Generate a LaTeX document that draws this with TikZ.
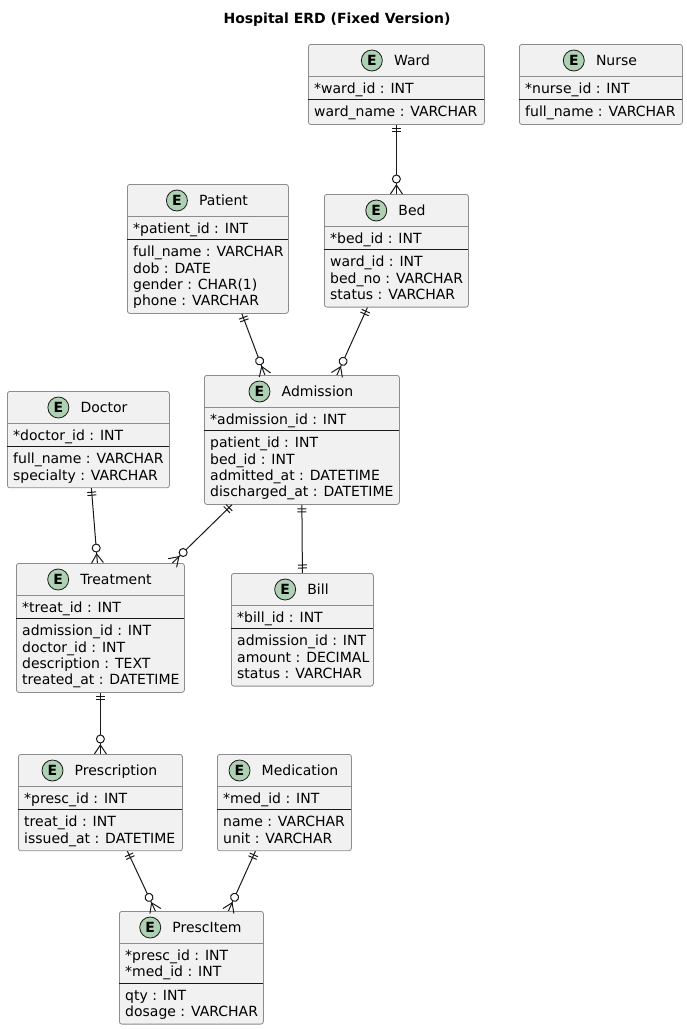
\documentclass[tikz,border=0pt]{standalone}
\usepackage{fontspec}
\setmainfont{DejaVu Sans}
\usetikzlibrary{decorations.markings}
\definecolor{entfill}{HTML}{F1F1F1}
\definecolor{entline}{HTML}{8C8C8C}
\definecolor{inkline}{HTML}{181818}
\definecolor{spotfill}{HTML}{ADD1B2}
\tikzset{
  entbox/.style={draw=entline, fill=entfill, rounded corners=2.5pt, line width=0.8pt, inner sep=0pt},
  entsep/.style={draw=entline, line width=0.8pt},
  keysep/.style={draw=inkline, line width=1pt},
  enticon/.style={circle, draw=inkline, fill=spotfill, line width=0.8pt, minimum size=21pt, inner sep=0pt, font=\fontsize{14}{17}\selectfont\bfseries},
  enttitle/.style={anchor=base, inner sep=0pt},
  entrow/.style={anchor=base west, inner sep=0pt},
  relink/.style={draw=inkline, line width=1pt},
  onemany/.style={relink, decoration={markings,
      mark=at position 0 with {\draw[relink] (4pt,-4.5pt) -- (4pt,4.5pt) (7pt,-4.5pt) -- (7pt,4.5pt);},
      mark=at position 1 with {\draw[relink] (-9pt,0pt) -- (0pt,6pt) (-9pt,0pt) -- (0pt,-6pt);
        \draw[relink, fill=white] (-15pt,0pt) circle (4pt);}},
    postaction={decorate}},
  oneone/.style={relink, decoration={markings,
      mark=at position 0 with {\draw[relink] (4pt,-4.5pt) -- (4pt,4.5pt) (7pt,-4.5pt) -- (7pt,4.5pt);},
      mark=at position 1 with {\draw[relink] (-5pt,-4.5pt) -- (-5pt,4.5pt) (-8pt,-4.5pt) -- (-8pt,4.5pt);}},
    postaction={decorate}}
}
% #1 name, #2 x, #3 top, #4 width, #5 title, #6/#7 key lines, #8/#9 attribute lines
\newcommand{\entity}[9]{%
  \pgfmathsetmacro\entA{#3+32}
  \pgfmathsetmacro\entB{\entA+7.5+16.3*#6}
  \pgfmathsetmacro\entH{\entB+8+16.3*#8-#3}
  \node[entbox, anchor=north west, minimum width=#4pt, minimum height=\entH pt] (#1) at (#2,#3) {};
  \draw[entsep] (#2,\entA) -- ++(#4,0);
  \draw[keysep] (#2,\entB) -- ++(#4,0);
  \node[enttitle] (#1-t) at (#2+#4/2+16,#3+21) {#5};
  \node[enticon] (#1-e) at ([xshift=-22pt,yshift=4.5pt]#1-t.base west) {E};
  \foreach \row [count=\i] in {#7}
    \node[entrow] at (#2+6,\entA+17+16.3*\i-16.3) {\row};
  \foreach \row [count=\i] in {#9}
    \node[entrow] at (#2+6,\entB+17+16.3*\i-16.3) {\row};
}

\begin{document}
\begin{tikzpicture}[x=1pt, y=-1pt, font=\fontsize{14}{17}\selectfont]
  \useasboundingbox (0,0) rectangle (687,1029);
  \node[font=\fontsize{14}{17}\selectfont\bfseries, anchor=base] (title) at (337,23) {Hospital ERD (Fixed Version)};

  % entities
  \entity{ward}{308}{44}{176}{Ward}{1}{*ward\_id : INT}{1}{ward\_name : VARCHAR}
  \entity{nurse}{519}{44}{163}{Nurse}{1}{*nurse\_id : INT}{1}{full\_name : VARCHAR}
  \entity{patient}{127}{184}{161}{Patient}{1}{*patient\_id : INT}{4}{full\_name : VARCHAR, dob : DATE, gender : CHAR(1), phone : VARCHAR}
  \entity{bed}{324}{194}{144}{Bed}{1}{*bed\_id : INT}{3}{ward\_id : INT, bed\_no : VARCHAR, status : VARCHAR}
  \entity{admission}{204}{375}{195}{Admission}{1}{*admission\_id : INT}{4}{patient\_id : INT, bed\_id : INT, admitted\_at : DATETIME, discharged\_at : DATETIME}
  \entity{doctor}{7}{391}{162}{Doctor}{1}{*doctor\_id : INT}{2}{full\_name : VARCHAR, specialty : VARCHAR}
  \entity{treatment}{16}{563}{168}{Treatment}{1}{*treat\_id : INT}{4}{admission\_id : INT, doctor\_id : INT, description : TEXT, treated\_at : DATETIME}
  \entity{bill}{231}{573}{142}{Bill}{1}{*bill\_id : INT}{3}{admission\_id : INT, amount : DECIMAL, status : VARCHAR}
  \entity{prescription}{18}{754}{164}{Prescription}{1}{*presc\_id : INT}{2}{treat\_id : INT, issued\_at : DATETIME}
  \entity{medication}{217}{754}{134}{Medication}{1}{*med\_id : INT}{2}{name : VARCHAR, unit : VARCHAR}
  \entity{prescitem}{119}{911}{144}{PrescItem}{2}{*presc\_id : INT, *med\_id : INT}{2}{qty : INT, dosage : VARCHAR}

  % relations
  \draw[onemany] (ward.south) -- (bed.north);
  \draw[onemany] ([xshift=34pt]patient.south) -- ([xshift=-37pt]admission.north);
  \draw[onemany] ([xshift=-29pt]bed.south) -- ([xshift=35pt]admission.north);
  \draw[onemany] ([xshift=3pt]doctor.south) -- ([xshift=-3pt]treatment.north);
  \draw[onemany] ([xshift=-70pt]admission.south) -- ([xshift=72pt]treatment.north);
  \draw[oneone] (admission.south) -- (bill.north);
  \draw[onemany] (treatment.south) -- (prescription.north);
  \draw[onemany] ([xshift=27pt]prescription.south) -- ([xshift=-36pt]prescitem.north);
  \draw[onemany] ([xshift=-29pt]medication.south) -- ([xshift=37pt]prescitem.north);
\end{tikzpicture}
\end{document}
